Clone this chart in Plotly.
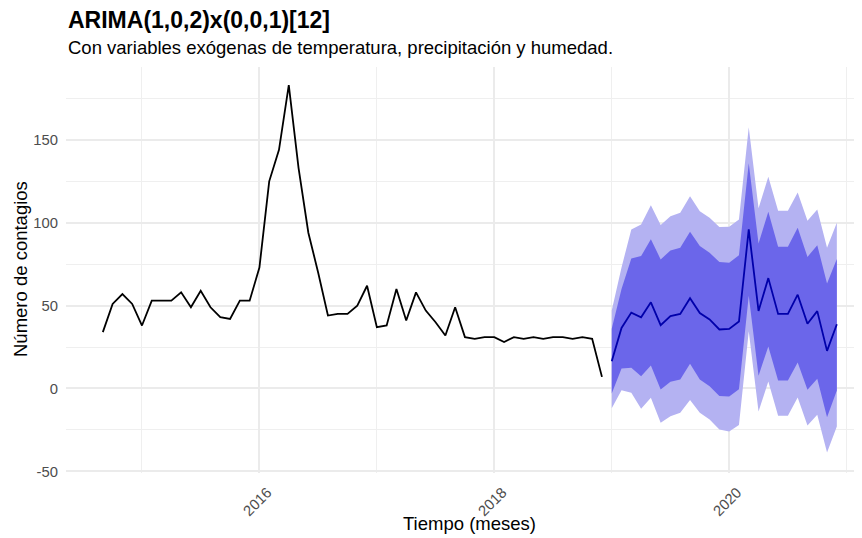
import plotly.graph_objects as go

# ---------------- data ----------------
hist_start_year, hist_start_month = 2014, 9
hist_values = [34, 51, 57, 51,
               38, 53, 53, 53, 58, 49, 59, 49, 43, 42, 53, 53,
               73, 125, 144, 183, 133, 94, 70, 44, 45, 45, 50, 62,
               37, 38, 60, 41, 58, 47, 40, 32, 49, 31, 30, 31,
               31, 28, 31, 30, 31, 30, 31, 31, 30, 31, 30, 7]

fc_start_year, fc_start_month = 2019, 1
fc_mean = [16.5, 36.5, 45.8, 43.0, 52.0, 38.2, 43.7, 45.0, 54.5, 45.5, 41.7, 35.6,
           35.9, 40.4, 96.0, 46.8, 66.6, 45.0, 45.0, 56.6, 39.1, 46.7, 22.7, 38.8]
fc_hi95 = [47, 73, 96, 99, 110.5, 98.6, 104, 106, 116, 107, 103, 97.4,
           97.6, 102, 157.7, 108.7, 127.8, 107.3, 107.3, 118.3, 101.2, 108, 84.9, 100]
fc_hi80 = [36, 60, 78.5, 79.9, 90, 77.9, 83.3, 85, 94.6, 86, 81.9, 76.3,
           75.8, 80.4, 135.9, 87.5, 106.7, 85.5, 85.5, 97, 79.4, 86.5, 63.3, 78.2]
fc_lo80 = [-3, 12, 12.5, 7.4, 13.9, -0.6, 4, 5.4, 14.9, 5.4, 1.4, -4.6,
           -4.8, -0.4, 56, 7.7, 25.4, 4.8, 4.8, 15.7, -0.8, 5.8, -17.3, -1.2]
fc_lo95 = [-12, -1, -2.6, -12.3, -5.6, -20.7, -16.7, -14.7, -7, -14.7, -18.7, -24.7,
           -26, -22, 34.5, -13.9, 4.2, -16.5, -16.5, -5.4, -22.4, -15.9, -38.7, -23]

x_tick_values = [2016, 2018, 2020]
x_tick_labels = ["2016", "2018", "2020"]
y_tick_values = [-50, 0, 50, 100, 150]
y_tick_labels = ["-50", "0", "50", "100", "150"]

title_text = "ARIMA(1,0,2)x(0,0,1)[12]"
subtitle_text = "Con variables exógenas de temperatura, precipitación y humedad."
x_title = "Tiempo (meses)"
y_title = "Número de contagios"

# time index as decimal years (like an R ts object)
def month_index(y0, m0, n):
    return [y0 + (m0 - 1 + i) / 12 for i in range(n)]

x_hist = month_index(hist_start_year, hist_start_month, len(hist_values))
x_fc = month_index(fc_start_year, fc_start_month, len(fc_mean))

LIGHT = "rgb(180,178,242)"
DARK = "rgb(107,102,234)"
MEAN = "rgb(0,0,170)"
FONT = "Liberation Sans, Arial, sans-serif"

fig = go.Figure()
# 95% band
fig.add_trace(go.Scatter(x=x_fc, y=fc_hi95, mode="lines", line=dict(width=0),
                         hoverinfo="skip", showlegend=False))
fig.add_trace(go.Scatter(x=x_fc, y=fc_lo95, mode="lines", line=dict(width=0),
                         fill="tonexty", fillcolor=LIGHT, hoverinfo="skip", showlegend=False))
# 80% band
fig.add_trace(go.Scatter(x=x_fc, y=fc_hi80, mode="lines", line=dict(width=0),
                         hoverinfo="skip", showlegend=False))
fig.add_trace(go.Scatter(x=x_fc, y=fc_lo80, mode="lines", line=dict(width=0),
                         fill="tonexty", fillcolor=DARK, hoverinfo="skip", showlegend=False))
# forecast mean
fig.add_trace(go.Scatter(x=x_fc, y=fc_mean, mode="lines",
                         line=dict(color=MEAN, width=1.8), showlegend=False))
# history
fig.add_trace(go.Scatter(x=x_hist, y=hist_values, mode="lines",
                         line=dict(color="black", width=1.8), showlegend=False))

# the page body adds an 8px margin, so the figure is shifted by OFF on screen
OFF = 8
W, H = 862 - OFF, 538 - OFF
PANEL_L, PANEL_R, PANEL_T, PANEL_B = 66, 862, 67, 473  # screen pixels
ML = PANEL_L - OFF
MR = 0
MT = PANEL_T - OFF
MB = H - (PANEL_B - OFF)
plot_w = W - ML - MR
plot_h = H - MT - MB

def sx(px):  # screen x -> paper x
    return (px - OFF - ML) / plot_w

def sy(py):  # screen y -> paper y
    return (H - MB - (py - OFF)) / plot_h

fig.update_layout(
    width=W, height=H,
    margin=dict(l=ML, r=MR, t=MT, b=MB, pad=0),
    paper_bgcolor="white", plot_bgcolor="white",
    font=dict(family=FONT, color="black"),
    showlegend=False,
    xaxis=dict(range=[2014.353, 2021.131], tickmode="array",
               tickvals=x_tick_values, ticktext=x_tick_labels,
               tickangle=-45, tickfont=dict(size=14.8, color="#4D4D4D"),
               showgrid=True, gridcolor="#EBEBEB", gridwidth=1.6,
               zeroline=False, showline=False, ticks="",
               ticklabelstandoff=7, ticklabelshift=8,
               minor=dict(tickmode="linear", tick0=2015, dtick=2,
                          showgrid=True, gridcolor="#EFEFEF", gridwidth=0.9)),
    yaxis=dict(range=[-51, 194], tickmode="array", tickvals=y_tick_values,
               ticktext=y_tick_labels,
               tickfont=dict(size=14.8, color="#4D4D4D"),
               showgrid=True, gridcolor="#EBEBEB", gridwidth=1.6,
               zeroline=False, showline=False, ticks="",
               ticklabelstandoff=7,
               minor=dict(tickmode="linear", tick0=25, dtick=50,
                          showgrid=True, gridcolor="#EFEFEF", gridwidth=0.9)),
    annotations=[
        dict(text="<b>" + title_text + "</b>", xref="paper", yref="paper",
             x=sx(66), y=sy(20), xanchor="left", yanchor="middle",
             showarrow=False, font=dict(size=23, color="black", family=FONT)),
        dict(text=subtitle_text, xref="paper", yref="paper",
             x=sx(66), y=sy(48), xanchor="left", yanchor="middle",
             showarrow=False, font=dict(size=18.5, color="black", family=FONT)),
        dict(text=x_title, xref="paper", yref="paper",
             x=sx(469), y=sy(523), xanchor="center", yanchor="middle",
             showarrow=False, font=dict(size=18.5, color="black", family=FONT)),
        dict(text=y_title, xref="paper", yref="paper", textangle=-90,
             x=sx(20), y=sy(269), xanchor="center", yanchor="middle",
             showarrow=False, font=dict(size=18.5, color="black", family=FONT)),
    ],
)

fig.write_html("out.html")
